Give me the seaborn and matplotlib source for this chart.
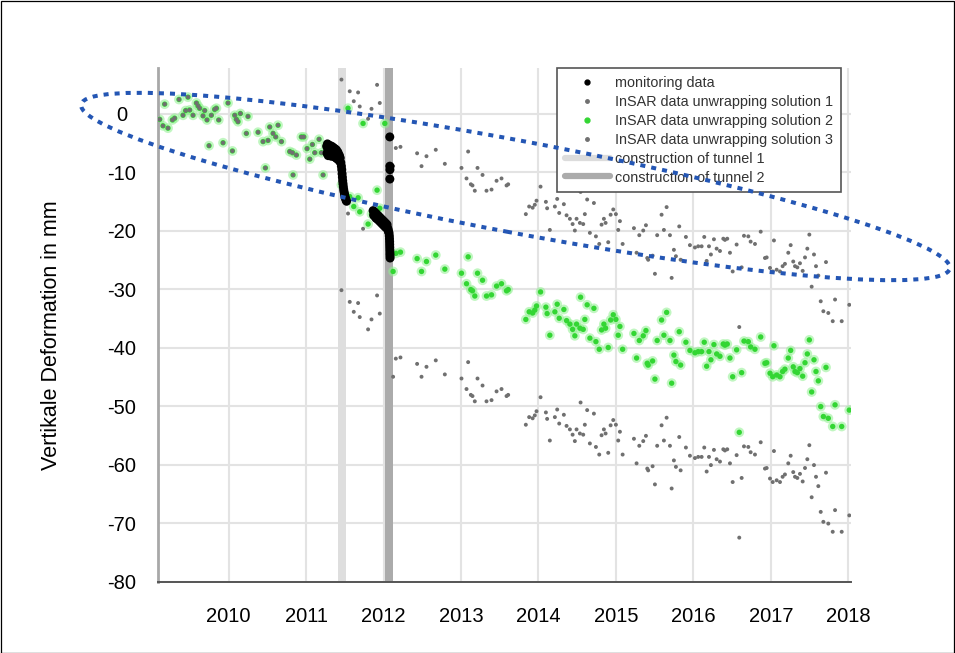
import matplotlib
matplotlib.use("Agg")
import matplotlib.pyplot as plt
import seaborn as sns
import pandas as pd
from matplotlib.patches import Ellipse, Rectangle
from matplotlib.lines import Line2D
from matplotlib.transforms import IdentityTransform

# ---------------- data ----------------
# InSAR epochs before tunnel construction: all three unwrapping solutions coincide
t_pre = [2009.109, 2009.151, 2009.173, 2009.216, 2009.273, 2009.302, 2009.358, 2009.410,
         2009.444, 2009.474, 2009.496, 2009.539, 2009.583, 2009.604, 2009.625, 2009.668,
         2009.690, 2009.720, 2009.746, 2009.776, 2009.819, 2009.841, 2009.871, 2009.927,
         2009.991, 2010.048, 2010.078, 2010.099, 2010.120, 2010.151, 2010.228, 2010.249,
         2010.379, 2010.443, 2010.474, 2010.508, 2010.530, 2010.573, 2010.607, 2010.637,
         2010.681, 2010.788, 2010.823, 2010.831, 2010.874, 2010.939, 2010.969, 2011.012,
         2011.047, 2011.081, 2011.111, 2011.167, 2011.198, 2011.219, 2011.250, 2011.300,
         2011.350, 2011.400]
v_pre = [-1.0, -2.1, 1.6, -2.5, -1.1, -0.8, 2.4, -0.3,
         0.5, 2.8, 0.6, -0.3, 1.8, 1.3, 0.9, -0.4,
         0.5, -1.1, -5.5, -0.3, 0.7, 0.9, -1.1, -5.0,
         1.8, -6.4, -0.3, -1.0, -1.4, 0.0, -3.4, -0.5,
         -3.2, -4.8, -9.3, -4.6, -2.3, -3.4, -4.0, -2.0,
         -4.8, -6.5, -6.7, -10.5, -7.1, -4.0, -4.0, -6.0,
         -7.8, -5.3, -6.7, -4.4, -6.7, -10.5, -5.5, -6.5,
         -7.0, -7.5]

# InSAR epochs from the start of tunnel 1 onwards
t_post = [2011.456, 2011.541, 2011.563, 2011.615, 2011.671, 2011.692, 2011.735, 2011.800,
          2011.844, 2011.916, 2011.951, 2012.016, 2012.123, 2012.158, 2012.218, 2012.433,
          2012.490, 2012.554, 2012.674, 2012.791, 2013.006, 2013.071, 2013.092, 2013.127,
          2013.148, 2013.178, 2013.213, 2013.278, 2013.329, 2013.394, 2013.459, 2013.523,
          2013.588, 2013.609, 2013.837, 2013.880, 2013.925, 2013.953, 2013.975, 2014.027,
          2014.096, 2014.112, 2014.147, 2014.212, 2014.242, 2014.268, 2014.328, 2014.363,
          2014.406, 2014.441, 2014.470, 2014.492, 2014.535, 2014.544, 2014.578, 2014.599,
          2014.629, 2014.664, 2014.716, 2014.742, 2014.785, 2014.815, 2014.845, 2014.867,
          2014.901, 2014.932, 2014.966, 2015.000, 2015.030, 2015.052, 2015.087, 2015.233,
          2015.267, 2015.302, 2015.353, 2015.388, 2015.405, 2015.417, 2015.474, 2015.504,
          2015.533, 2015.590, 2015.620, 2015.655, 2015.698, 2015.720, 2015.749, 2015.775,
          2015.818, 2015.836, 2015.904, 2015.956, 2016.021, 2016.063, 2016.107, 2016.141,
          2016.172, 2016.202, 2016.227, 2016.266, 2016.301, 2016.344, 2016.387, 2016.408,
          2016.438, 2016.473, 2016.508, 2016.559, 2016.593, 2016.624, 2016.654, 2016.710,
          2016.740, 2016.796, 2016.870, 2016.925, 2016.947, 2016.990, 2017.025, 2017.041,
          2017.076, 2017.119, 2017.153, 2017.183, 2017.226, 2017.257, 2017.290, 2017.313,
          2017.343, 2017.377, 2017.412, 2017.442, 2017.472, 2017.498, 2017.528, 2017.558,
          2017.584, 2017.614, 2017.645, 2017.679, 2017.713, 2017.743, 2017.800, 2017.830,
          2017.916, 2018.014]
sol2_post = [-12.2, 0.9, -14.2, -15.9, -14.4, -16.8, -1.7, -18.9,
             -17.2, -13.1, -16.2, -1.7, -27.0, -23.9, -23.7, -24.8,
             -27.0, -25.3, -24.2, -26.6, -27.3, -29.1, -24.5, -30.1,
             -30.3, -31.2, -27.3, -28.5, -31.2, -31.0, -29.5, -29.1,
             -30.3, -30.1, -35.2, -33.9, -34.1, -33.6, -32.9, -30.5,
             -33.1, -34.2, -37.9, -33.9, -32.6, -35.0, -33.5, -35.4,
             -36.0, -36.9, -38.0, -36.0, -36.7, -31.4, -36.9, -35.2,
             -32.7, -38.4, -33.3, -39.0, -40.3, -37.0, -36.0, -36.7,
             -40.0, -35.3, -34.4, -35.2, -37.9, -36.4, -40.3, -37.6,
             -41.8, -38.8, -38.0, -37.1, -42.7, -43.0, -42.3, -45.4,
             -38.8, -35.3, -37.9, -34.0, -38.8, -46.1, -41.3, -42.4,
             -37.3, -43.0, -39.1, -40.5, -40.9, -40.7, -40.7, -39.1,
             -43.2, -40.7, -42.1, -39.5, -41.1, -41.5, -39.4, -39.6,
             -39.4, -41.8, -45.0, -40.4, -54.5, -44.3, -38.9, -39.0,
             -39.9, -40.3, -38.2, -42.7, -42.6, -44.4, -45.0, -39.7,
             -44.7, -45.0, -44.1, -43.7, -41.8, -40.5, -43.3, -44.1,
             -44.3, -43.6, -44.9, -42.6, -41.1, -38.7, -47.6, -42.1,
             -44.1, -45.7, -50.1, -51.8, -43.4, -52.1, -53.5, -49.8,
             -53.5, -50.7]
sol1_post = [5.8, 18.9, 3.8, 2.1, 3.6, 1.2, 16.3, -0.9,
             0.8, 4.9, 1.8, 16.3, -9.0, -5.9, -5.7, -6.8,
             -9.0, -7.3, -6.2, -8.6, -9.3, -11.1, -6.5, -12.1,
             -12.3, -13.2, -9.3, -10.5, -13.2, -13.0, -11.5, -11.1,
             -12.3, -12.1, -17.2, -15.9, -16.1, -15.6, -14.9, -12.5,
             -15.1, -16.2, -19.9, -15.9, -14.6, -17.0, -15.5, -17.4,
             -18.0, -18.9, -20.0, -18.0, -18.7, -13.4, -18.9, -17.2,
             -14.7, -20.4, -15.3, -21.0, -22.3, -19.0, -18.0, -18.7,
             -22.0, -17.3, -16.4, -17.2, -19.9, -18.4, -22.3, -19.6,
             -23.8, -20.8, -20.0, -19.1, -24.7, -25.0, -24.3, -27.4,
             -20.8, -17.3, -19.9, -16.0, -20.8, -28.1, -23.3, -24.4,
             -19.3, -25.0, -21.1, -22.5, -22.9, -22.7, -22.7, -21.1,
             -25.2, -22.7, -24.1, -21.5, -23.1, -23.5, -21.4, -21.6,
             -21.4, -23.8, -27.0, -22.4, -36.5, -26.3, -20.9, -21.0,
             -21.9, -22.3, -20.2, -24.7, -24.6, -26.4, -27.0, -21.7,
             -26.7, -27.0, -26.1, -25.7, -23.8, -22.5, -25.3, -26.1,
             -26.3, -25.6, -26.9, -24.6, -23.1, -20.7, -29.6, -24.1,
             -26.1, -27.7, -32.1, -33.8, -25.4, -34.1, -35.5, -31.8,
             -35.5, -32.7]
sol3_post = [-30.2, -17.1, -32.2, -33.9, -32.4, -34.8, -19.7, -36.9,
             -35.2, -31.1, -34.2, -19.7, -45.0, -41.9, -41.7, -42.8,
             -45.0, -43.3, -42.2, -44.6, -45.3, -47.1, -42.5, -48.1,
             -48.3, -49.2, -45.3, -46.5, -49.2, -49.0, -47.5, -47.1,
             -48.3, -48.1, -53.2, -51.9, -52.1, -51.6, -50.9, -48.5,
             -51.1, -52.2, -55.9, -51.9, -50.6, -53.0, -51.5, -53.4,
             -54.0, -54.9, -56.0, -54.0, -54.7, -49.4, -54.9, -53.2,
             -50.7, -56.4, -51.3, -57.0, -58.3, -55.0, -54.0, -54.7,
             -58.0, -53.3, -52.4, -53.2, -55.9, -54.4, -58.3, -55.6,
             -59.8, -56.8, -56.0, -55.1, -60.7, -61.0, -60.3, -63.4,
             -56.8, -53.3, -55.9, -52.0, -56.8, -64.1, -59.3, -60.4,
             -55.3, -61.0, -57.1, -58.5, -58.9, -58.7, -58.7, -57.1,
             -61.2, -58.7, -60.1, -57.5, -59.1, -59.5, -57.4, -57.6,
             -57.4, -59.8, -63.0, -58.4, -72.5, -62.3, -56.9, -57.0,
             -57.9, -58.3, -56.2, -60.7, -60.6, -62.4, -63.0, -57.7,
             -62.7, -63.0, -62.1, -61.7, -59.8, -58.5, -61.3, -62.1,
             -62.3, -61.6, -62.9, -60.6, -59.1, -56.7, -65.6, -60.1,
             -62.1, -63.7, -68.1, -69.8, -61.4, -70.1, -71.5, -67.8,
             -71.5, -68.7]

# levelling / monitoring measurements during tunnel construction
t_mon = [2011.265, 2011.270, 2011.275, 2011.280, 2011.285, 2011.290, 2011.295, 2011.300,
         2011.305, 2011.310, 2011.315, 2011.320, 2011.325, 2011.330, 2011.335, 2011.340,
         2011.345, 2011.350, 2011.355, 2011.360, 2011.365, 2011.370, 2011.375, 2011.380,
         2011.385, 2011.390, 2011.395, 2011.400, 2011.405, 2011.410, 2011.415, 2011.420,
         2011.425, 2011.430, 2011.435, 2011.440, 2011.448, 2011.455, 2011.460, 2011.464,
         2011.468, 2011.472, 2011.476, 2011.480, 2011.485, 2011.490, 2011.496, 2011.502,
         2011.508, 2011.515, 2011.522,
         2011.865, 2011.872, 2011.880, 2011.888, 2011.895, 2011.903, 2011.910, 2011.918,
         2011.925, 2011.933, 2011.940, 2011.948, 2011.955, 2011.963, 2011.970, 2011.978,
         2011.985, 2011.993, 2012.000, 2012.008, 2012.015, 2012.023, 2012.030, 2012.038,
         2012.045, 2012.052, 2012.058, 2012.064, 2012.070, 2012.074, 2012.076, 2012.078,
         2012.079, 2012.080, 2012.081, 2012.082, 2012.083, 2012.084,
         2012.080, 2012.081, 2012.082, 2012.081]
v_mon = [-5.6, -6.8, -5.2, -6.2, -7.2, -5.4, -6.4, -5.8,
         -7.0, -5.5, -6.5, -6.0, -7.3, -5.6, -6.6, -6.1,
         -7.2, -5.8, -6.8, -6.3, -7.4, -6.0, -7.0, -6.5,
         -7.6, -6.2, -7.2, -6.8, -7.8, -6.6, -7.5, -7.0,
         -8.0, -7.2, -8.2, -7.6, -8.4, -9.0, -9.6, -10.3,
         -10.9, -11.5, -12.0, -12.5, -13.0, -13.4, -13.8, -14.2,
         -14.5, -14.8, -15.0,
         -16.6, -17.4, -16.8, -17.6, -17.0, -17.9, -17.2, -18.0,
         -17.4, -18.2, -17.6, -18.4, -17.8, -18.6, -18.0, -18.8,
         -18.2, -19.0, -18.4, -19.2, -18.6, -19.4, -18.8, -19.6,
         -19.0, -19.6, -19.8, -20.2, -20.4, -20.9, -21.4, -21.9,
         -22.4, -22.9, -23.4, -23.9, -24.3, -24.7,
         -4.0, -9.0, -9.6, -11.2]

tunnel_1 = (2011.412, 2011.512)
tunnel_2 = (2012.016, 2012.123)

year_ticks = [2010, 2011, 2012, 2013, 2014, 2015, 2016, 2017, 2018]
depth_ticks = [0, -10, -20, -30, -40, -50, -60, -70, -80]

legend_labels = ["monitoring data",
                 "InSAR data unwrapping solution 1",
                 "InSAR data unwrapping solution 2",
                 "InSAR data unwrapping solution 3",
                 "construction of tunnel 1",
                 "construction of tunnel 2"]

# ---------------- tables ----------------
sol1 = pd.DataFrame({"t": t_pre + t_post, "v": v_pre + sol1_post})
sol2 = pd.DataFrame({"t": t_pre + t_post, "v": v_pre + sol2_post})
sol3 = pd.DataFrame({"t": t_pre + t_post, "v": v_pre + sol3_post})
mon = pd.DataFrame({"t": t_mon, "v": v_mon})

# ---------------- figure ----------------
sns.set_style("white")
plt.rcParams["font.family"] = ["Liberation Sans", "DejaVu Sans"]

W, H = 955, 653
fig = plt.figure(figsize=(W / 100, H / 100), dpi=100)
ax = fig.add_axes([158 / W, (H - 581.5) / H, (851 - 158) / W, (581.5 - 68) / H])

GREEN = "#33d633"
GREY = "#707070"

ax.axvspan(*tunnel_1, color="#dedede", lw=0, zorder=1)
ax.axvspan(*tunnel_2, color="#ababab", lw=0, zorder=1)

sns.scatterplot(data=sol1, x="t", y="v", ax=ax, s=8, color=GREY, edgecolor="none",
                linewidth=0, zorder=3, legend=False)
sns.scatterplot(data=sol2, x="t", y="v", ax=ax, s=50, color="#8ff08f", alpha=0.55,
                edgecolor="none", linewidth=0, zorder=2.5, legend=False)
sns.scatterplot(data=sol2, x="t", y="v", ax=ax, s=15, color=GREEN, edgecolor="none",
                linewidth=0, zorder=2.6, legend=False)
sns.scatterplot(data=sol3, x="t", y="v", ax=ax, s=8, color=GREY, edgecolor="none",
                linewidth=0, zorder=3, legend=False)
sns.scatterplot(data=mon, x="t", y="v", ax=ax, s=42, color="black", edgecolor="none",
                linewidth=0, zorder=4, legend=False)

ax.set_xlim(2009.087, 2018.036)
ax.set_ylim(-80, 7.78)
ax.set_xticks(year_ticks)
ax.set_xticklabels([str(y) for y in year_ticks])
ax.set_yticks(depth_ticks)
ax.set_yticklabels([str(d) for d in depth_ticks])
ax.grid(True, color="#e3e3e3", lw=1.5)
ax.set_axisbelow(True)

ax.tick_params(axis="x", direction="in", length=5, width=1, color="#555555",
               pad=18, labelsize=14.5, labelcolor="black")
ax.tick_params(axis="y", direction="in", length=4, width=1, color="#555555",
               pad=26, labelsize=14.5, labelcolor="black")
for lab in ax.get_yticklabels():
    lab.set_horizontalalignment("center")

for side in ("top", "right"):
    ax.spines[side].set_visible(False)
ax.spines["left"].set_color("#a8a8a8")
ax.spines["left"].set_linewidth(2)
ax.spines["bottom"].set_color("#555555")
ax.spines["bottom"].set_linewidth(1.4)

ax.set_xlabel("")
ax.set_ylabel("Vertikale Deformation in mm", fontsize=15.5, color="black")
ax.yaxis.set_label_coords((62 - 158) / (851 - 158), 0.48)

handles = [
    Line2D([], [], ls="none", marker="o", ms=3.5, color="black"),
    Line2D([], [], ls="none", marker="o", ms=2.5, color=GREY),
    Line2D([], [], ls="none", marker="o", ms=3.5, color=GREEN),
    Line2D([], [], ls="none", marker="o", ms=2.5, color=GREY),
    Line2D([], [], color="#dcdcdc", lw=4.5),
    Line2D([], [], color="#ababab", lw=4.5),
]
leg = ax.legend(handles, legend_labels, loc="upper left",
                bbox_to_anchor=(557 / W, 1 - 68 / H), bbox_transform=fig.transFigure,
                fontsize=10.4, frameon=True, fancybox=False, framealpha=1,
                edgecolor="#555555", borderpad=0.55, labelspacing=0.34,
                handlelength=3.1, handletextpad=0.35, borderaxespad=0)
leg.get_frame().set_linewidth(1.2)
for txt in leg.get_texts():
    txt.set_color("#333333")

# dotted highlight ellipse drawn in pixel space across the figure
hl = Ellipse((515.5, H - 186.5), 884, 92, angle=-10.7, transform=IdentityTransform(),
             fill=False, edgecolor="#2456b4", lw=2.9, linestyle=(0, (1.25, 1.5)))
hl.set_capstyle("butt")
fig.add_artist(hl)

# thin black frame around the whole figure
fig.add_artist(Rectangle((0.5, 0.5), W - 1.5, H - 1.5, transform=IdentityTransform(),
                         fill=False, edgecolor="black", lw=0.9))

fig.savefig("out.png", dpi=100)
